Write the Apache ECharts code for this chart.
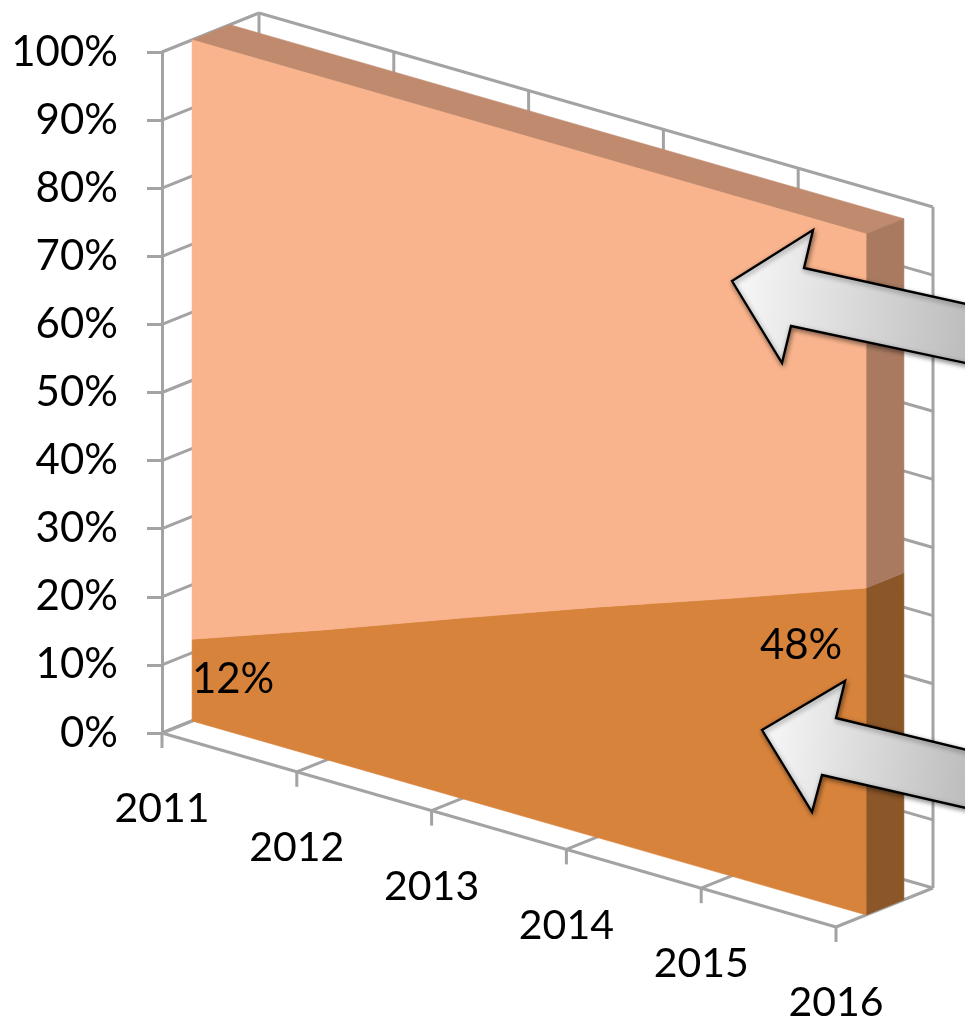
<!DOCTYPE html>
<html>
<head>
<meta charset="utf-8">
<style>html,body{margin:0;padding:0;background:#fff}#c{width:965px;height:1018px}</style>
<script src="https://cdn.jsdelivr.net/npm/echarts@6/dist/echarts.min.js"></script>
</head>
<body>
<div id="c"></div>
<script>
const years = ['2011','2012','2013','2014','2015','2016'];
const lowerShare = [12,19.1,26.5,33.8,40.8,48];
const upperShare = [88,80.9,73.5,66.2,59.2,52];
const yTicks = [0,10,20,30,40,50,60,70,80,90,100];
const dataLabels = [{i:0,text:'12%',dx:41,dy:40},{i:5,text:'48%',dx:-65,dy:57}];

// oblique projection of the flat cartesian grid
const SHEAR = 38.8/134.8, DEPTH_X = 97, DEPTH_Y = -39;
const FRONT = 0.31, BACK = 0.70;
const GRID_COL = '#a3a3a3', FONT = 'Lato';
function P(api, i, v, d){
  const c = api.coord([i, v]), o = api.coord([0, v]);
  return [c[0] + d*DEPTH_X, c[1] + (c[0]-o[0])*SHEAR + d*DEPTH_Y];
}
const poly = (points, fill) => ({type:'polygon', shape:{points}, style:{fill, stroke:fill, lineWidth:0.6}});
const seg = (a,b,w) => ({type:'line', shape:{x1:a[0],y1:a[1],x2:b[0],y2:b[1]}, style:{stroke:GRID_COL, lineWidth:w||3}});

function renderWalls(params, api){
  if (params.dataIndex !== 0) return null;
  const ch = [], last = years.length-1;
  // left wall and back wall horizontals
  yTicks.forEach(v => {
    ch.push(seg(P(api,0,v,0), P(api,0,v,1)));
    ch.push(seg(P(api,0,v,1), P(api,last,v,1)));
  });
  // back wall verticals, floor lines, front ticks, and year labels
  years.forEach((y,i) => {
    ch.push(seg(P(api,i,0,1), P(api,i,100,1)));
    ch.push(seg(P(api,i,0,0), P(api,i,0,1)));
    const f = P(api,i,0,0);
    ch.push(seg(f, [f[0], f[1]+15]));
    ch.push({type:'text', style:{text:y, x:f[0], y:f[1]+76, align:'center', verticalAlign:'middle',
      fill:'#000', font:'41px '+FONT}});
  });
  ch.push(seg(P(api,0,0,0), P(api,last,0,0)));
  return {type:'group', children:ch};
}
function renderLower(params, api){
  if (params.dataIndex !== 0) return null;
  const last = years.length-1, ch = [];
  const front = lowerShare.map((v,i)=>P(api,i,v,FRONT));
  const base = years.map((_,i)=>P(api,i,0,FRONT)).reverse();
  ch.push(poly([P(api,last,0,FRONT),P(api,last,0,BACK),P(api,last,lowerShare[last],BACK),P(api,last,lowerShare[last],FRONT)],'#8B5628'));
  ch.push(poly(front.concat(base),'#D8833C'));
  dataLabels.forEach(l=>{
    const p = P(api,l.i,lowerShare[l.i],FRONT);
    ch.push({type:'text', style:{text:l.text, x:p[0]+l.dx, y:p[1]+l.dy, align:'center', verticalAlign:'middle',
      fill:'#000', font:'42px '+FONT}});
  });
  return {type:'group', children:ch};
}
function renderUpper(params, api){
  if (params.dataIndex !== 0) return null;
  const last = years.length-1, ch = [];
  const tot = i => lowerShare[i]+upperShare[i];
  const top = years.map((_,i)=>P(api,i,tot(i),FRONT));
  const lo = lowerShare.map((v,i)=>P(api,i,v,FRONT)).reverse();
  ch.push(poly([P(api,0,tot(0),FRONT),P(api,0,tot(0),BACK),P(api,last,tot(last),BACK),P(api,last,tot(last),FRONT)],'#BF8A6D'));
  ch.push(poly([P(api,last,lowerShare[last],FRONT),P(api,last,lowerShare[last],BACK),P(api,last,tot(last),BACK),P(api,last,tot(last),FRONT)],'#A97A60'));
  ch.push(poly(top.concat(lo),'#F9B48D'));
  return {type:'group', children:ch};
}
const arrowFill = {type:'linear',x:0,y:0,x2:1,y2:0.2,colorStops:[{offset:0,color:'#fafafa'},{offset:1,color:'#bdbdbd'}]};
function arrow(points){
  return {type:'polygon', z:100, shape:{points},
    style:{fill:arrowFill, stroke:'#000', lineWidth:2.4, lineJoin:'miter',
      shadowBlur:5, shadowColor:'rgba(0,0,0,0.45)', shadowOffsetX:1, shadowOffsetY:2}};
}
const chart = echarts.init(document.getElementById('c'), null, {renderer:'canvas'});
chart.setOption({
  animation:false,
  grid:{left:162, right:129, top:52, bottom:285},
  xAxis:{type:'category', data:years, boundaryGap:false, show:false},
  yAxis:{type:'value', min:0, max:100, interval:10,
    axisLine:{show:true, lineStyle:{color:GRID_COL, width:3}},
    axisTick:{show:true, length:15, lineStyle:{color:GRID_COL, width:3}},
    splitLine:{show:false},
    axisLabel:{color:'#000', fontFamily:FONT, fontSize:42, margin:44, padding:[2,0,0,0], formatter:'{value}%'}},
  series:[
    {type:'custom', name:'walls', z:1, clip:false, data:years.map((y,i)=>[i,0]), renderItem:renderWalls},
    {type:'custom', name:'lower', z:2, clip:false, data:lowerShare.map((v,i)=>[i,v]), renderItem:renderLower},
    {type:'custom', name:'upper', z:3, clip:false, data:upperShare.map((v,i)=>[i,v]), renderItem:renderUpper}
  ],
  graphic:[
    arrow([[732,281],[813,230],[804,268],[975,306],[975,365],[791,326],[782,363]]),
    arrow([[762,730],[845,681],[836,718],[975,752],[975,810],[822,775],[812,812]])
  ]
});
</script>
</body>
</html>
